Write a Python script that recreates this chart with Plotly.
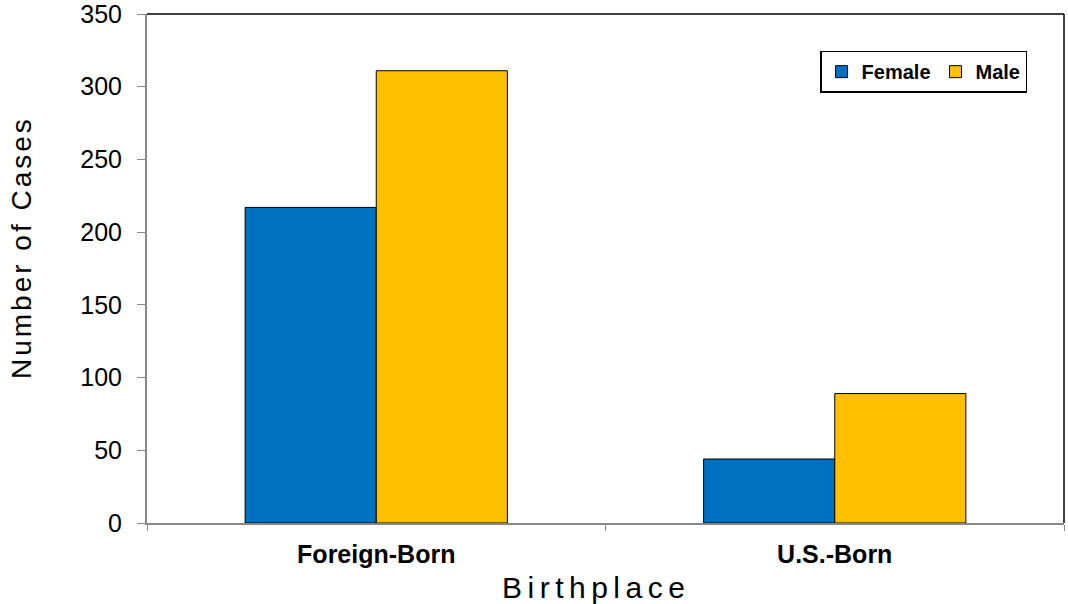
import plotly.graph_objects as go

categories = ["Foreign-Born", "U.S.-Born"]
female = [217, 44]
male = [311, 89]
y_ticks = [0, 50, 100, 150, 200, 250, 300, 350]

FONT = "Liberation Sans, Arial, sans-serif"

fig = go.Figure()
fig.add_trace(go.Bar(name="Female", x=categories, y=female,
                     marker=dict(color="#0070C0", line=dict(color="black", width=1))))
fig.add_trace(go.Bar(name="Male", x=categories, y=male,
                     marker=dict(color="#FFC000", line=dict(color="black", width=1))))

fig.update_layout(
    width=1068, height=604,
    margin=dict(l=147, r=4, t=14, b=81),
    paper_bgcolor="white", plot_bgcolor="white",
    barmode="group", bargap=0.428, bargroupgap=0,
    font=dict(family=FONT, color="black"),
    legend=dict(orientation="h", x=0.734, y=0.928, xanchor="left", yanchor="top",
                bordercolor="black", borderwidth=1.5, bgcolor="white",
                font=dict(size=20, family=FONT, weight="bold"),
                itemwidth=30, traceorder="normal"),
    xaxis=dict(tickson="boundaries", ticks="outside", ticklen=6, tickcolor="#888888",
               showline=True, linecolor="#888888", linewidth=2, automargin=False,
               ticklabelstandoff=8,
               tickfont=dict(size=25, weight="bold")),
    yaxis=dict(range=[0, 350], tickvals=y_ticks, ticks="outside", ticklen=8, tickcolor="#888888",
               showline=True, linecolor="#888888", linewidth=2, showgrid=False, zeroline=False,
               automargin=False, ticklabelstandoff=10, ticklabeloverflow="allow",
               tickfont=dict(size=25)),
)
fig.add_annotation(text='<span style="letter-spacing:5.5px">Birthplace</span>',
                   xref="paper", yref="paper", x=(596 - 147) / 917, y=(523 - 587) / 509,
                   xanchor="center", yanchor="middle", showarrow=False,
                   font=dict(size=30, family=FONT))
fig.add_annotation(text='<span style="letter-spacing:3px">Number of Cases</span>',
                   xref="paper", yref="paper", x=(21 - 147) / 917, y=(523 - 248) / 509,
                   xanchor="center", yanchor="middle", showarrow=False, textangle=-90,
                   font=dict(size=28, family=FONT))
fig.add_shape(type="line", xref="paper", yref="paper", x0=0, x1=1, y0=1, y1=1,
              line=dict(color="black", width=1.5))
fig.add_shape(type="line", xref="paper", yref="paper", x0=1, x1=1, y0=0, y1=1,
              line=dict(color="black", width=1.5))
fig.write_html("out.html", config={"displayModeBar": False},
               post_script="document.body.style.margin='0';document.body.style.overflow='hidden';")
